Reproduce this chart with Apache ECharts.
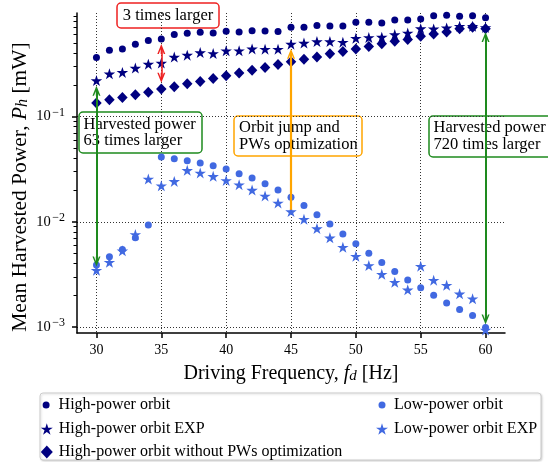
<!DOCTYPE html>
<html><head><meta charset="utf-8">
<script src="https://cdn.jsdelivr.net/npm/echarts@6/dist/echarts.min.js"></script>
<style>html,body{margin:0;padding:0;background:#fff}#c{width:548px;height:462px}</style>
</head><body><div id="c"></div>
<script>
const freqs = [30,31,32,33,34,35,36,37,38,39,40,41,42,43,44,45,46,47,48,49,50,51,52,53,54,55,56,57,58,59,60];
const highOrbit = [0.362,0.426,0.438,0.486,0.525,0.545,0.599,0.617,0.631,0.621,0.645,0.635,0.653,0.649,0.639,0.703,0.703,0.729,0.724,0.724,0.785,0.785,0.770,0.826,0.826,0.844,0.906,0.914,0.895,0.906,0.867];
const highOrbitExp = [0.219,0.254,0.262,0.288,0.314,0.321,0.366,0.382,0.404,0.396,0.420,0.420,0.438,0.435,0.435,0.486,0.497,0.514,0.514,0.507,0.553,0.561,0.566,0.599,0.621,0.682,0.678,0.693,0.719,0.719,0.700];
const highNoOpt = [0.134,0.144,0.151,0.161,0.170,0.182,0.192,0.204,0.215,0.229,0.243,0.259,0.275,0.291,0.311,0.330,0.349,0.366,0.393,0.413,0.438,0.461,0.489,0.519,0.537,0.578,0.608,0.635,0.682,0.703,0.680];
const lowOrbit = [0.0039,0.00465,0.00545,0.00704,0.00935,0.0412,0.0397,0.0380,0.0362,0.0341,0.0317,0.0286,0.0261,0.0230,0.0200,0.0171,0.01425,0.0117,0.00955,0.00768,0.00618,0.00503,0.00410,0.00337,0.00281,0.00236,0.00201,0.00170,0.00147,0.00129,0.00099];
const lowOrbitExp = [0.00347,0.00413,0.0053,0.00757,0.0255,0.0220,0.0242,0.0308,0.0291,0.0270,0.0247,0.0225,0.0200,0.0176,0.0151,0.0125,0.01056,0.00862,0.00704,0.00573,0.00471,0.00385,0.00318,0.00267,0.00226,0.00379,0.00279,0.00250,0.00207,0.00186,0.00094];
const xTicks = [30,35,40,45,50,55,60];
const yTicks = [0.001,0.01,0.1];
const yMinorTicks = [0.002,0.003,0.004,0.005,0.006,0.007,0.008,0.009,0.02,0.03,0.04,0.05,0.06,0.07,0.08,0.09,0.2,0.3,0.4,0.5,0.6,0.7,0.8,0.9];
const arrowRed = [[35,0.438],[35,0.233]];
const arrowGreenLeft = [[30,0.175],[30,0.0042]];
const arrowOrange = [[45,0.0130],[45,0.393]];
const arrowGreenRight = [[60,0.569],[60,0.00118]];

const FONT = 'Liberation Serif';
const NAVY = '#000080', ROYAL = '#4169E1';
const STAR = 'path://M50,0 L61.23,34.55 L97.55,34.55 L68.16,55.9 L79.39,90.45 L50,69.1 L20.61,90.45 L31.84,55.9 L2.45,34.55 L38.77,34.55 Z';
const HEAD = 'path://M0,10 L5,0 L10,10 L8.1,10 L5.8,5.3 L5.8,10 L4.2,10 L4.2,5.3 L1.9,10 Z';

function pairs(vals){ return freqs.map((f,i)=>[f, vals[i]]); }

const chart = echarts.init(document.getElementById('c'), null, {renderer:'canvas'});

function arrowSeries(pts, color, width, both){
  return {type:'scatter', data:[], z:20, silent:true,
    markLine:{silent:true, animation:false, z:20, symbol:[both?HEAD:'none', HEAD], symbolSize:[8,10],
      label:{show:false}, lineStyle:{color:color, width:width, type:'solid', opacity:1},
      emphasis:{disabled:true},
      data:[[{coord:pts[0], symbol: both?HEAD:'none'},{coord:pts[1], symbol: HEAD}]]}};
}

function legendItem(name, icon, w, h, left, top, padLeft){
  return {data:[{name:name, icon:icon}], left:left, top:top, itemWidth:w, itemHeight:h, padding:0,
    orient:'horizontal', selectedMode:false, z:10,
    textStyle:{fontFamily:FONT, fontSize:16, color:'#000', lineHeight:18, padding:[0,0,0,padLeft]}};
}

function nameRich(size, sub){
  return {
    t:{fontFamily:FONT, fontSize:size, color:'#000', padding:[0,0,5,0]},
    i:{fontFamily:FONT, fontSize:size, fontStyle:'italic', color:'#000', padding:[0,0,5,0]},
    d:{fontFamily:FONT, fontSize:sub, fontStyle:'italic', color:'#000'}};
}

const gridStyle = {show:true, lineStyle:{color:'#333', width:1, type:[1,2]}};

const option = {
  animation:false,
  backgroundColor:'#fff',
  grid:{left:77, right:43, top:13, bottom:129, containLabel:false, outerBoundsMode:'none'},
  xAxis:{type:'value', min:28.5, max:61.5,
    axisLine:{show:true, onZero:false, lineStyle:{color:'#000', width:1.5}},
    axisTick:{show:true, customValues:xTicks, length:5, lineStyle:{color:'#000', width:1.5}},
    axisLabel:{customValues:xTicks, margin:10, fontFamily:FONT, fontSize:14, color:'#000'},
    splitLine:gridStyle,
    name:'{t|Driving Frequency, }{i|f}{d|d}{t| [Hz]}', nameLocation:'middle', nameGap:31, nameMoveOverlap:false,
    nameTextStyle:{fontFamily:FONT, color:'#000', rich:nameRich(20,15)}
  },
  yAxis:[{type:'log', logBase:10, min:0.00088, max:0.96,
    axisLine:{show:true, onZero:false, lineStyle:{color:'#000', width:1.5}},
    axisTick:{show:true, customValues:yTicks, length:5, lineStyle:{color:'#000', width:1.5}},
    axisLabel:{customValues:yTicks, margin:12,
      formatter:function(v){ const e = Math.round(Math.log10(v)); return '{b|10}{s|\u2212' + Math.abs(e) + '}'; },
      rich:{b:{fontFamily:FONT, fontSize:14.5, color:'#000'}, s:{fontFamily:FONT, fontSize:12, color:'#000', padding:[0,0,8,1.5]}}},
    splitLine:gridStyle, minorTick:{show:false},
    name:'{t|Mean Harvested Power, }{i|P}{d|h}{t| [mW]}', nameLocation:'middle', nameGap:41, nameMoveOverlap:false,
    nameTextStyle:{fontFamily:FONT, color:'#000', padding:[0,28,0,0], rich:nameRich(21.5,16)}
  },{type:'log', logBase:10, min:0.00088, max:0.96, position:'left',
    axisLine:{show:false},
    axisTick:{show:true, customValues:yMinorTicks, length:3.5, lineStyle:{color:'#000', width:1}},
    axisLabel:{show:false}, splitLine:{show:false}}],
  legend:[
    legendItem('High-power orbit','circle',7,7,42.6,396,4),
    legendItem('High-power orbit EXP',STAR,12,11.5,40.8,420,1),
    legendItem('High-power orbit without PWs optimization','diamond',12,13,40.8,443,1),
    legendItem('Low-power orbit','circle',7,7,378.5,396,3.5),
    legendItem('Low-power orbit EXP',STAR,12,11.5,376,420,1)
  ],
  series:[
    {name:'High-power orbit', type:'scatter', data:pairs(highOrbit), symbol:'circle', symbolSize:7, itemStyle:{color:NAVY, opacity:1}, z:3},
    {name:'High-power orbit EXP', type:'scatter', data:pairs(highOrbitExp), symbol:STAR, symbolSize:[11.5,11], itemStyle:{color:NAVY, opacity:1}, z:3},
    {name:'High-power orbit without PWs optimization', type:'scatter', data:pairs(highNoOpt), symbol:'diamond', symbolSize:[10.5,11], itemStyle:{color:NAVY, opacity:1}, z:3},
    {name:'Low-power orbit', type:'scatter', data:pairs(lowOrbit), symbol:'circle', symbolSize:7, itemStyle:{color:ROYAL, opacity:1}, z:3},
    {name:'Low-power orbit EXP', type:'scatter', data:pairs(lowOrbitExp), symbol:STAR, symbolSize:[11.5,11], itemStyle:{color:ROYAL, opacity:1}, z:3},
    arrowSeries(arrowRed, '#ee2020', 1.6, true),
    arrowSeries(arrowGreenLeft, '#1e8a1e', 2, true),
    arrowSeries(arrowOrange, '#ffa500', 2.2, false),
    arrowSeries(arrowGreenRight, '#1e8a1e', 2, true)
  ],
  graphic:[
    {type:'rect', z:0, shape:{x:40, y:393, width:501, height:67, r:3},
      style:{fill:'#fff', stroke:'#cccccc', lineWidth:1, shadowBlur:2, shadowColor:'rgba(0,0,0,0.15)', shadowOffsetX:1, shadowOffsetY:1}},
    {type:'group', z:100, children:[
      {type:'rect', shape:{x:117, y:3, width:102, height:25, r:4}, style:{fill:'#fff', stroke:'#ee2020', lineWidth:1.5}},
      {type:'text', x:168, y:16, style:{text:'3 times larger', font:'16.5px "Liberation Serif"', fill:'#000', align:'center', verticalAlign:'middle'}},
      {type:'rect', shape:{x:79, y:112, width:123, height:41, r:4}, style:{fill:'#fff', stroke:'#1e8a1e', lineWidth:1.5}},
      {type:'text', x:83.5, y:132.5, style:{text:'Harvested power\n63 times larger', font:'16.5px "Liberation Serif"', lineHeight:16.5, fill:'#000', align:'left', verticalAlign:'middle'}},
      {type:'rect', shape:{x:234, y:116, width:128, height:40, r:4}, style:{fill:'#fff', stroke:'#ffa500', lineWidth:1.5}},
      {type:'text', x:239, y:136, style:{text:'Orbit jump and\nPWs optimization', font:'16.5px "Liberation Serif"', lineHeight:16.5, fill:'#000', align:'left', verticalAlign:'middle'}},
      {type:'rect', shape:{x:429, y:116, width:125, height:41, r:4}, style:{fill:'#fff', stroke:'#1e8a1e', lineWidth:1.5}},
      {type:'text', x:433.5, y:136, style:{text:'Harvested power\n720 times larger', font:'16.5px "Liberation Serif"', lineHeight:16.5, fill:'#000', align:'left', verticalAlign:'middle'}}
    ]}
  ]
};
chart.setOption(option);
</script></body></html>
